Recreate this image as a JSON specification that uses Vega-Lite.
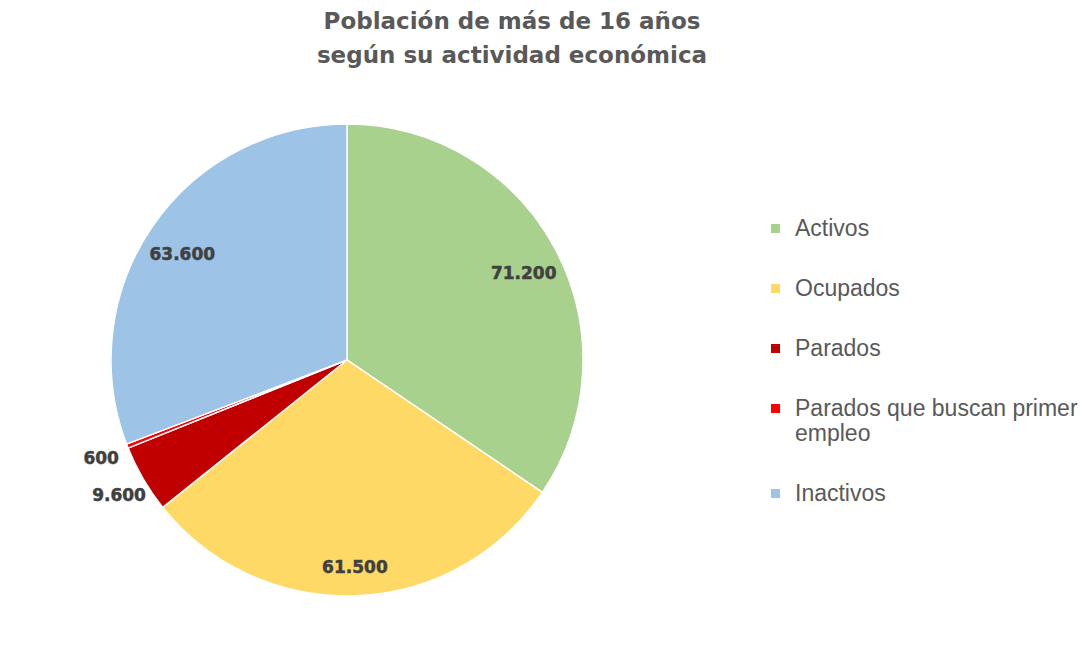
{
  "$schema": "https://vega.github.io/schema/vega-lite/v6.json",
  "width": 694,
  "height": 480,
  "padding": {"left": 0, "top": 11, "right": 0, "bottom": 0},
  "background": "white",
  "title": {
    "text": ["Población de más de 16 años", "según su actividad económica"],
    "font": "DejaVu Sans",
    "fontSize": 23,
    "fontWeight": "bold",
    "color": "#595959",
    "lineHeight": 34,
    "anchor": "middle",
    "dx": 165,
    "offset": 52
  },
  "config": {
    "view": {"stroke": null},
    "locale": {"number": {"decimal": ",", "thousands": ".", "grouping": [3], "currency": ["", " €"]}}
  },
  "data": {
    "values": [
      {"categoria": "Activos", "valor": 71200, "orden": 1},
      {"categoria": "Ocupados", "valor": 61500, "orden": 2},
      {"categoria": "Parados", "valor": 9600, "orden": 3},
      {"categoria": "Parados que buscan primer empleo", "valor": 600, "orden": 4},
      {"categoria": "Inactivos", "valor": 63600, "orden": 5}
    ]
  },
  "encoding": {
    "theta": {"field": "valor", "type": "quantitative", "stack": true},
    "order": {"field": "orden", "type": "quantitative"},
    "color": {
      "field": "categoria",
      "type": "nominal",
      "scale": {
        "domain": ["Activos", "Ocupados", "Parados", "Parados que buscan primer empleo", "Inactivos"],
        "range": ["#A9D18E", "#FFD966", "#C00000", "#FF0000", "#9DC3E6"]
      },
      "legend": {
        "title": null,
        "orient": "none",
        "legendX": 764,
        "legendY": 97,
        "symbolType": "square",
        "symbolSize": 81,
        "symbolStrokeWidth": 0,
        "labelFont": "Liberation Sans",
        "labelFontSize": 23,
        "labelColor": "#595959",
        "labelOffset": 8,
        "labelLimit": 400,
        "rowPadding": 36,
        "labelExpr": "datum.label == 'Parados que buscan primer empleo' ? ['Parados que buscan primer', 'empleo'] : datum.label"
      }
    }
  },
  "layer": [
    {
      "mark": {"type": "arc", "outerRadius": 236, "stroke": "white", "strokeWidth": 1.5}
    },
    {
      "mark": {"type": "text", "radius": 200, "dy": 8, "font": "DejaVu Sans", "fontSize": 17, "fontWeight": "bold", "stroke": "#404040", "strokeWidth": 0.5},
      "encoding": {
        "text": {"field": "valor", "type": "quantitative", "format": ",.0f"},
        "color": {"value": "#404040"},
        "opacity": {"condition": {"test": "datum.valor >= 20000", "value": 1}, "value": 0}
      }
    },
    {
      "mark": {"type": "text", "radius": 264, "dy": 3, "font": "DejaVu Sans", "fontSize": 17, "fontWeight": "bold", "stroke": "#404040", "strokeWidth": 0.5},
      "encoding": {
        "text": {"field": "valor", "type": "quantitative", "format": ",.0f"},
        "color": {"value": "#404040"},
        "opacity": {"condition": {"test": "datum.valor < 20000", "value": 1}, "value": 0}
      }
    }
  ]
}
